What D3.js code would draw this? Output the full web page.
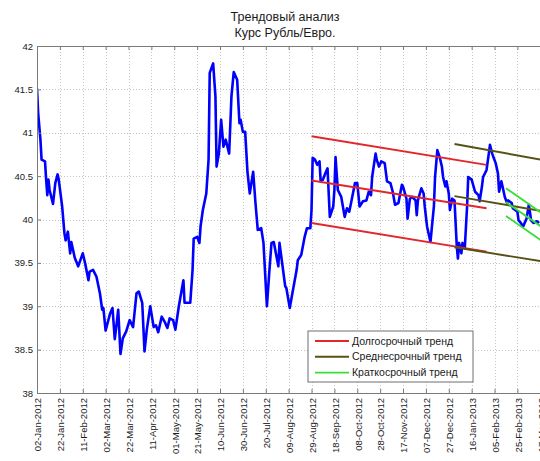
<!DOCTYPE html>
<html>
<head>
<meta charset="utf-8">
<script src="https://cdn.jsdelivr.net/npm/d3@7"></script>
<style>
body { margin: 0; background: #fff; }
svg { display: block; font-family: "Liberation Sans", Arial, sans-serif; }
</style>
</head>
<body>
<div id="chart"></div>
<script>
var dates = [
"2012-01-02","2012-01-03","2012-01-05","2012-01-06","2012-01-09","2012-01-10","2012-01-11","2012-01-12","2012-01-13","2012-01-16",
"2012-01-18","2012-01-20","2012-01-21","2012-01-24","2012-01-26","2012-01-27","2012-01-29","2012-01-31","2012-02-01","2012-02-04",
"2012-02-07","2012-02-11","2012-02-13","2012-02-16","2012-02-17","2012-02-20","2012-02-23","2012-02-26","2012-02-28","2012-02-29",
"2012-03-02","2012-03-06","2012-03-08","2012-03-10","2012-03-12","2012-03-13","2012-03-15","2012-03-17","2012-03-20","2012-03-23",
"2012-03-26","2012-03-29","2012-03-31","2012-04-03","2012-04-05","2012-04-07","2012-04-10","2012-04-13","2012-04-15","2012-04-17",
"2012-04-20","2012-04-23","2012-04-25","2012-04-27","2012-04-30","2012-05-02","2012-05-05","2012-05-09","2012-05-10","2012-05-15",
"2012-05-17","2012-05-18","2012-05-21","2012-05-23","2012-05-24","2012-05-26","2012-05-29","2012-05-31","2012-06-01","2012-06-04",
"2012-06-06","2012-06-07","2012-06-09","2012-06-11","2012-06-13","2012-06-15","2012-06-18","2012-06-20","2012-06-22","2012-06-25",
"2012-06-27","2012-06-28","2012-06-30","2012-07-02","2012-07-04","2012-07-06","2012-07-09","2012-07-11","2012-07-13","2012-07-16",
"2012-07-18","2012-07-21","2012-07-23","2012-07-25","2012-07-27","2012-07-31","2012-08-01","2012-08-06","2012-08-07","2012-08-10",
"2012-08-12","2012-08-16","2012-08-17","2012-08-20","2012-08-23","2012-08-25","2012-08-28","2012-08-29","2012-08-30","2012-09-01",
"2012-09-03","2012-09-05","2012-09-06","2012-09-08","2012-09-10","2012-09-12","2012-09-14","2012-09-17","2012-09-18","2012-09-19",
"2012-09-21","2012-09-24","2012-09-27","2012-09-29","2012-10-01","2012-10-03","2012-10-06","2012-10-08","2012-10-10","2012-10-13",
"2012-10-16","2012-10-18","2012-10-20","2012-10-21","2012-10-24","2012-10-25","2012-10-27","2012-10-29","2012-11-01","2012-11-03",
"2012-11-06","2012-11-08","2012-11-10","2012-11-13","2012-11-16","2012-11-17","2012-11-20","2012-11-21","2012-11-23","2012-11-25",
"2012-11-28","2012-11-29","2012-11-30","2012-12-03","2012-12-05","2012-12-06","2012-12-08","2012-12-11","2012-12-12","2012-12-14",
"2012-12-15","2012-12-17","2012-12-19","2012-12-21","2012-12-22","2012-12-24","2012-12-25","2012-12-27","2012-12-28","2012-12-30",
"2013-01-01","2013-01-03","2013-01-04","2013-01-05","2013-01-07","2013-01-08","2013-01-10","2013-01-12","2013-01-13","2013-01-16",
"2013-01-19","2013-01-22","2013-01-23","2013-01-25","2013-01-26","2013-01-29","2013-01-31","2013-02-01","2013-02-03","2013-02-04",
"2013-02-06","2013-02-08","2013-02-09","2013-02-11","2013-02-14","2013-02-16","2013-02-17","2013-02-20","2013-02-21","2013-02-25",
"2013-02-26","2013-02-28","2013-03-02","2013-03-05","2013-03-07","2013-03-09","2013-03-11","2013-03-14","2013-03-16"
];

var rates = [
41.51,41.23,40.92,40.69,40.67,40.46,40.28,40.46,40.34,40.18,
40.42,40.52,40.46,40.15,39.84,39.76,39.86,39.61,39.74,39.56,
39.46,39.61,39.50,39.30,39.40,39.42,39.34,39.15,38.96,38.98,
38.72,38.92,38.98,38.62,38.84,38.96,38.45,38.63,38.71,38.84,
38.76,39.15,39.17,39.04,38.48,38.73,39.00,38.76,38.78,38.70,
38.88,38.81,38.75,38.86,38.84,38.73,39.00,39.30,39.04,39.04,
39.42,39.78,39.80,39.73,39.92,40.11,40.30,40.69,41.69,41.80,
41.42,40.61,40.76,41.15,40.84,40.92,40.76,41.42,41.70,41.61,
41.11,41.15,41.01,41.01,40.55,40.30,40.55,40.19,39.88,39.90,
39.73,39.00,39.38,39.73,39.74,39.46,39.73,39.23,39.21,38.98,
39.13,39.42,39.53,39.59,39.80,39.90,39.90,40.11,40.71,40.69,
40.63,40.67,40.44,40.46,40.53,40.59,40.03,40.15,40.34,40.72,
40.34,40.26,40.03,40.13,40.09,40.22,40.42,40.42,40.15,40.21,
40.22,40.32,40.28,40.49,40.76,40.69,40.61,40.67,40.65,40.44,
40.42,40.32,40.17,40.19,40.40,40.38,40.24,40.01,40.24,40.26,
40.22,40.05,40.22,40.36,40.30,40.15,39.92,39.74,39.88,40.15,
40.49,40.80,40.72,40.61,40.49,40.38,40.44,40.30,40.11,40.24,
40.22,39.69,39.55,39.73,39.61,39.73,39.67,40.15,40.49,40.46,
40.32,40.28,40.21,40.38,40.49,40.57,40.76,40.86,40.76,40.72,
40.65,40.53,40.32,40.44,40.26,40.19,40.22,40.19,40.13,40.09,
39.99,39.96,39.92,40.01,40.17,39.99,39.96,39.98,39.96
];

var tickDates = [
"2012-01-02","2012-01-22","2012-02-11","2012-03-02","2012-03-22","2012-04-11","2012-05-01","2012-05-21",
"2012-06-10","2012-06-30","2012-07-20","2012-08-09","2012-08-29","2012-09-18","2012-10-08","2012-10-28",
"2012-11-17","2012-12-07","2012-12-27","2013-01-16","2013-02-05","2013-02-25","2013-03-17"
];
var yTicks = [38, 38.5, 39, 39.5, 40, 40.5, 41, 41.5, 42];

// trend channels: upper, middle, lower line values at start and end date
var trendNames = ["Долгосрочный тренд", "Среднесрочный тренд", "Краткосрочный тренд"];
var trendColors = ["#e3262b", "#575214", "#36df36"];
var trendStart = ["2012-08-29", "2013-01-01", "2013-02-15"];
var trendEnd = ["2013-01-29", "2013-03-22", "2013-03-22"];
var trendFrom = [[40.96, 40.45, 39.96], [40.87, 40.27, 39.68], [40.36, 40.20, 40.04]];
var trendTo = [[40.63, 40.13, 39.63], [40.68, 40.09, 39.51], [40.04, 39.88, 39.72]];

var W = 540, H = 461;
var margin = {top: 46, left: 37, right: 546, bottom: 393};
var parseDate = d3.utcParse("%Y-%m-%d");

var x = d3.scaleUtc()
    .domain([parseDate("2012-01-02"), parseDate("2013-03-22")])
    .range([margin.left, margin.right]);
var y = d3.scaleLinear().domain([38, 42]).range([margin.bottom, margin.top]);

var svg = d3.select("#chart").append("svg")
    .attr("width", W)
    .attr("height", H);

svg.append("defs").append("clipPath").attr("id", "clip")
    .append("rect")
    .attr("x", margin.left).attr("y", margin.top)
    .attr("width", margin.right - margin.left)
    .attr("height", margin.bottom - margin.top);

var ticksX = tickDates.map(parseDate);

// grid
var grid = svg.append("g").attr("stroke", "#c4c4c4").attr("stroke-dasharray", "1,2").attr("stroke-width", 1);
grid.selectAll(".gx").data(ticksX.slice(1)).enter().append("line")
    .attr("x1", d => Math.round(x(d)) + 0.5).attr("x2", d => Math.round(x(d)) + 0.5)
    .attr("y1", margin.top).attr("y2", margin.bottom);
grid.selectAll(".gy").data(yTicks.slice(1, -1)).enter().append("line")
    .attr("x1", margin.left).attr("x2", margin.right)
    .attr("y1", d => Math.round(y(d)) + 0.5).attr("y2", d => Math.round(y(d)) + 0.5);

// rate line
var data = dates.map((d, i) => ({date: parseDate(d), v: rates[i]}));
var line = d3.line()
    .x(d => x(d.date))
    .y(d => y(d.v));

svg.append("path")
    .datum(data)
    .attr("clip-path", "url(#clip)")
    .attr("fill", "none")
    .attr("stroke", "#0000ff")
    .attr("stroke-width", 2.6)
    .attr("stroke-linejoin", "round")
    .attr("d", line);

// trend lines
trendNames.forEach(function(name, i) {
    var segs = [0, 1, 2].map(j => [
        {date: parseDate(trendStart[i]), v: trendFrom[i][j]},
        {date: parseDate(trendEnd[i]), v: trendTo[i][j]}
    ]);
    svg.append("g").attr("clip-path", "url(#clip)")
        .selectAll("path").data(segs).enter().append("path")
        .attr("fill", "none")
        .attr("stroke", trendColors[i])
        .attr("stroke-width", 1.9)
        .attr("d", line);
});

// axes
var xAxis = d3.axisBottom(x).tickValues(ticksX)
    .tickFormat(d3.utcFormat("%d-%b-%Y"))
    .tickSizeInner(-4).tickSizeOuter(0);
var gx = svg.append("g")
    .attr("transform", "translate(0," + margin.bottom + ")")
    .call(xAxis);
gx.selectAll("text")
    .attr("transform", "rotate(-90)")
    .attr("text-anchor", "end")
    .attr("x", -5)
    .attr("y", 0)
    .attr("dy", "0.4em");

svg.append("g")
    .attr("transform", "translate(0," + margin.top + ")")
    .call(d3.axisTop(x).tickValues(ticksX).tickFormat("").tickSizeInner(-4).tickSizeOuter(0));

var gy = svg.append("g")
    .attr("transform", "translate(" + margin.left + ",0)")
    .call(d3.axisLeft(y).tickValues(yTicks).tickFormat(d3.format("")).tickSizeInner(-4).tickSizeOuter(0));
gy.selectAll("text").attr("x", -4);

svg.selectAll(".domain, .tick line").attr("stroke", "#7a7a7a");
svg.selectAll(".tick text").attr("fill", "#1a1a1a").style("font-size", "9.5px")
    .style("font-family", "'Liberation Sans', Arial, sans-serif");

// title
var title = svg.append("text")
    .attr("text-anchor", "middle")
    .style("font-size", "12.5px")
    .attr("fill", "#1a1a1a");
title.append("tspan").attr("x", 285).attr("y", 21).text("Трендовый анализ");
title.append("tspan").attr("x", 285).attr("y", 37).text("Курс Рубль/Евро.");

// legend
var legend = svg.append("g").attr("transform", "translate(308,331)");
legend.append("rect")
    .attr("width", 165).attr("height", 51)
    .attr("fill", "#fff").attr("stroke", "#6e6e6e");
var items = legend.selectAll(".item").data(trendNames).enter().append("g")
    .attr("transform", (d, i) => "translate(0," + (10 + i * 15.8) + ")");
items.append("line")
    .attr("x1", 7).attr("x2", 41)
    .attr("stroke", (d, i) => trendColors[i])
    .attr("stroke-width", 1.9);
items.append("text")
    .attr("x", 44)
    .attr("dy", "0.35em")
    .style("font-size", "10.5px")
    .attr("fill", "#1a1a1a")
    .text(d => d);
</script>
</body>
</html>
